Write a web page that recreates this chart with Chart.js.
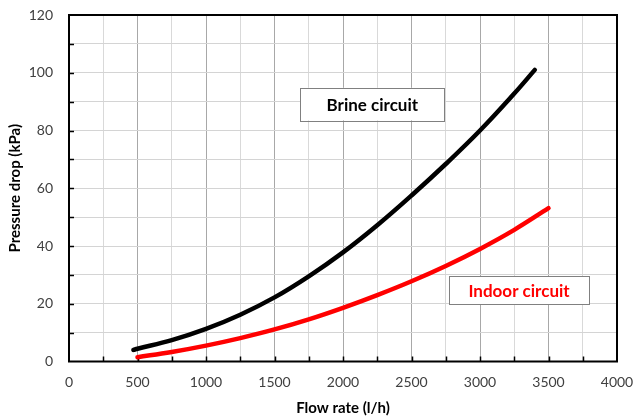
<!DOCTYPE html>
<html>
<head>
    <title>Pressure drop</title>
    <script src="https://cdn.jsdelivr.net/npm/chart.js"></script>
    <style>
        html, body { margin: 0; padding: 0; background: #fff; }
        #contenedor { width: 636px; height: 418px; position: relative; }
    </style>
</head>
<body>
    <div id="contenedor"><canvas id="grafica"></canvas></div>

    <script>
        // Datos
        const caudalBrine = [470, 500, 750, 1000, 1250, 1500, 1750, 2000, 2250, 2500, 2750, 3000, 3250, 3400];
        const presionBrine = [4.0, 4.4, 7.4, 11.3, 16.2, 22.2, 29.5, 37.8, 47.2, 57.5, 68.4, 80.0, 92.8, 101.0];
        const caudalIndoor = [500, 750, 1000, 1250, 1500, 1750, 2000, 2250, 2500, 2750, 3000, 3250, 3500];
        const presionIndoor = [1.5, 3.3, 5.5, 8.1, 11.1, 14.6, 18.6, 23.0, 27.8, 33.1, 39.0, 45.6, 53.1];
        const ticksX = [0, 500, 1000, 1500, 2000, 2500, 3000, 3500, 4000];
        const ticksY = [0, 20, 40, 60, 80, 100, 120];

        const aPuntos = (xs, ys) => xs.map((x, i) => ({ x: x, y: ys[i] }));

        // Marco negro y marcas interiores (debajo de las curvas), cuadros de texto (encima)
        const marcoPlugin = {
            id: 'marco',
            beforeDatasetsDraw(chart) {
                const ctx = chart.ctx;
                const a = chart.chartArea;
                const sx = chart.scales.x;
                const sy = chart.scales.y;
                ctx.save();
                ctx.strokeStyle = '#000';
                ctx.lineWidth = 1.5;
                for (let v = 250; v < 4000; v += 250) {
                    const px = Math.round(sx.getPixelForValue(v)) + 0.5;
                    ctx.beginPath();
                    ctx.moveTo(px, a.bottom);
                    ctx.lineTo(px, a.bottom - 5);
                    ctx.stroke();
                }
                for (let v = 10; v < 120; v += 10) {
                    const py = Math.round(sy.getPixelForValue(v)) + 0.5;
                    ctx.beginPath();
                    ctx.moveTo(a.left, py);
                    ctx.lineTo(a.left + 5, py);
                    ctx.stroke();
                }
                ctx.lineWidth = 2;
                ctx.strokeRect(a.left, a.top, a.right - a.left, a.bottom - a.top);
                ctx.restore();
            },
            afterDatasetsDraw(chart) {
                const ctx = chart.ctx;
                const sx = chart.scales.x;
                const sy = chart.scales.y;
                const cuadros = [
                    { texto: 'Brine circuit', color: '#000', x0: 1688, x1: 2740, y0: 94.8, y1: 83.5 },
                    { texto: 'Indoor circuit', color: '#ff0000', x0: 2775, x1: 3795, y0: 29.6, y1: 19.9 }
                ];
                ctx.save();
                for (const c of cuadros) {
                    const l = sx.getPixelForValue(c.x0), r = sx.getPixelForValue(c.x1);
                    const t = sy.getPixelForValue(c.y0), b = sy.getPixelForValue(c.y1);
                    ctx.fillStyle = '#fff';
                    ctx.fillRect(l, t, r - l, b - t);
                    ctx.strokeStyle = '#808080';
                    ctx.lineWidth = 1;
                    ctx.strokeRect(Math.round(l) + 0.5, Math.round(t) + 0.5, Math.round(r - l), Math.round(b - t));
                    ctx.fillStyle = c.color;
                    ctx.font = 'bold 17px Lato';
                    ctx.textAlign = 'center';
                    ctx.textBaseline = 'middle';
                    ctx.fillText(c.texto, (l + r) / 2, (t + b) / 2 + 1);
                }
                ctx.restore();
            }
        };

        const ctx = document.getElementById('grafica').getContext('2d');
        const chart = new Chart(ctx, {
            type: 'line',
            data: {
                datasets: [{
                    label: 'Brine circuit',
                    data: aPuntos(caudalBrine, presionBrine),
                    borderColor: '#000',
                    borderWidth: 4.5,
                    borderCapStyle: 'round',
                    pointRadius: 0,
                    tension: 0.4
                }, {
                    label: 'Indoor circuit',
                    data: aPuntos(caudalIndoor, presionIndoor),
                    borderColor: '#ff0000',
                    borderWidth: 4.5,
                    borderCapStyle: 'round',
                    pointRadius: 0,
                    tension: 0.4
                }]
            },
            options: {
                responsive: true,
                maintainAspectRatio: false,
                animation: false,
                layout: { padding: { top: 15, right: 19, left: 0, bottom: 0 } },
                plugins: {
                    legend: { display: false },
                    tooltip: { enabled: false }
                },
                scales: {
                    x: {
                        type: 'linear',
                        min: 0,
                        max: 4000,
                        afterFit: (s) => {
                            s.height = 56.5;
                            s.paddingLeft = 0;
                            s.paddingRight = 0;
                        },
                        border: { display: false },
                        grid: {
                            drawTicks: false,
                            color: (c) => c.tick && c.tick.value % 500 === 0 ? '#a8a8a8' : '#d9d9d9',
                            lineWidth: 1
                        },
                        ticks: {
                            stepSize: 250,
                            autoSkip: false,
                            maxRotation: 0,
                            padding: 13,
                            color: '#404040',
                            font: { family: 'Lato', size: 14 },
                            callback: (v) => ticksX.includes(v) ? v : ''
                        },
                        title: {
                            display: true,
                            text: 'Flow rate (l/h)',
                            color: '#000',
                            font: { family: 'Lato', size: 15, weight: 'bold' },
                            padding: { top: 0, bottom: 1 }
                        }
                    },
                    y: {
                        min: 0,
                        max: 120,
                        afterFit: (s) => {
                            s.width = 69;
                            s.paddingTop = 0;
                            s.paddingBottom = 0;
                        },
                        border: { display: false },
                        grid: {
                            drawTicks: false,
                            color: '#d4d4d4',
                            lineWidth: 1
                        },
                        ticks: {
                            stepSize: 10,
                            autoSkip: false,
                            padding: 16,
                            color: '#404040',
                            font: { family: 'Lato', size: 14 },
                            callback: (v) => ticksY.includes(v) ? v : ''
                        },
                        title: {
                            display: true,
                            text: 'Pressure drop (kPa)',
                            color: '#000',
                            font: { family: 'Lato', size: 15, weight: 'bold' },
                            padding: { top: 6, bottom: 0 }
                        }
                    }
                }
            },
            plugins: [marcoPlugin]
        });
    </script>
</body>
</html>
